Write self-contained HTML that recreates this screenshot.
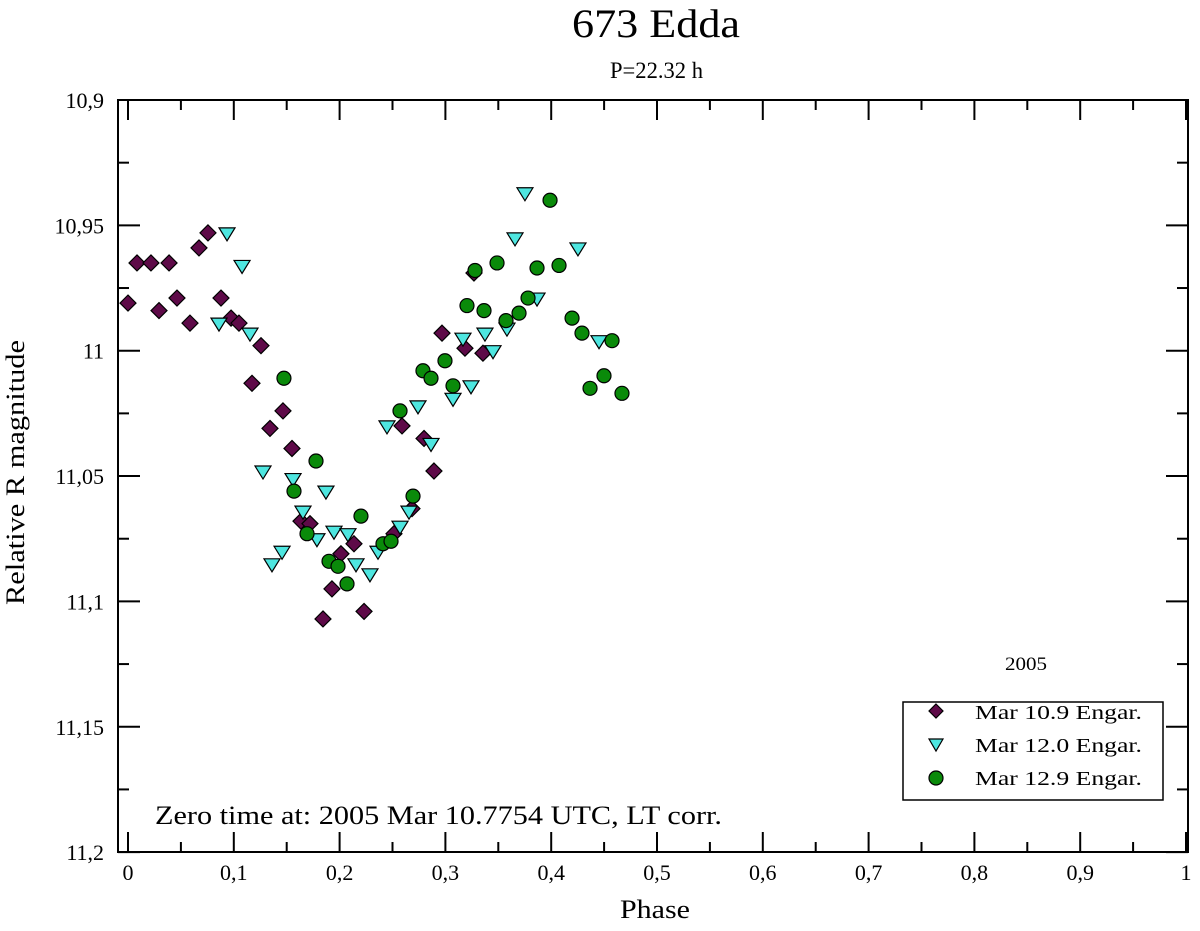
<!DOCTYPE html>
<html><head><meta charset="utf-8"><style>
body{margin:0;background:#fff}
svg text{font-family:"Liberation Serif",serif;fill:#000}
</style></head><body>
<svg id="chart" width="1200" height="926" xmlns="http://www.w3.org/2000/svg">
<text x="572" y="37" font-size="40" textLength="168" lengthAdjust="spacingAndGlyphs">673 Edda</text>
<text x="610" y="78" font-size="23" textLength="93" lengthAdjust="spacingAndGlyphs">P=22.32 h</text>
<rect x="118" y="100" width="1070" height="752" fill="none" stroke="#000" stroke-width="2"/>
<g id="axes"></g>
<g id="marks"></g>
<text x="620" y="918" font-size="26" textLength="70" lengthAdjust="spacingAndGlyphs">Phase</text>
<text transform="translate(24,605) rotate(-90)" font-size="26" textLength="265" lengthAdjust="spacingAndGlyphs">Relative R magnitude</text>
<text x="155" y="824" font-size="26" textLength="567" lengthAdjust="spacingAndGlyphs">Zero time at: 2005 Mar 10.7754 UTC, LT corr.</text>
<text x="1005" y="670" font-size="19" textLength="42" lengthAdjust="spacingAndGlyphs">2005</text>
<g>
<rect x="903" y="702" width="260" height="98" fill="#fff" stroke="#000" stroke-width="1.5"/>
<polygon points="936,704 943,711 936,718 929,711" fill="#5e0a48" stroke="#000" stroke-width="1.2"/>
<text x="975" y="719" font-size="20" textLength="167" lengthAdjust="spacingAndGlyphs">Mar 10.9 Engar.</text>
<polygon points="929,739 943,739 936,751" fill="#4ee6e0" stroke="#000" stroke-width="1.2"/>
<text x="975" y="752" font-size="20" textLength="167" lengthAdjust="spacingAndGlyphs">Mar 12.0 Engar.</text>
<circle cx="936" cy="778" r="7" fill="#0a8a0a" stroke="#000" stroke-width="1.2"/>
<text x="975" y="785" font-size="20" textLength="167" lengthAdjust="spacingAndGlyphs">Mar 12.9 Engar.</text>
</g>
</svg>
<script>
const xTicks=[0,0.1,0.2,0.3,0.4,0.5,0.6,0.7,0.8,0.9,1];
const xTickLabels=["0","0,1","0,2","0,3","0,4","0,5","0,6","0,7","0,8","0,9","1"];
const yTicks=[10.9,10.95,11,11.05,11.1,11.15,11.2];
const yTickLabels=["10,9","10,95","11","11,05","11,1","11,15","11,2"];
const diamondPhase=[0.000,0.0085,0.0217,0.0388,0.0293,0.0463,0.0586,0.0671,0.0756,0.0879,0.0974,0.1049,0.1257,0.1172,0.1465,0.1342,0.1550,0.1635,0.1720,0.1843,0.1928,0.2013,0.2136,0.2231,0.2514,0.2684,0.2590,0.2798,0.2892,0.2968,0.3185,0.3270,0.3355];
const diamondMag=[10.981,10.965,10.965,10.965,10.984,10.979,10.989,10.959,10.953,10.979,10.987,10.989,10.998,11.013,11.024,11.031,11.039,11.068,11.069,11.107,11.095,11.081,11.077,11.104,11.073,11.063,11.030,11.035,11.048,10.993,10.999,10.969,11.001];
const triPhase=[0.0860,0.0936,0.1078,0.1153,0.1276,0.1361,0.1456,0.1560,0.1654,0.1786,0.1871,0.1947,0.2079,0.2155,0.2287,0.2363,0.2448,0.2571,0.2656,0.2741,0.2864,0.3072,0.3166,0.3242,0.3374,0.3450,0.3582,0.3658,0.3752,0.3866,0.4253,0.4452];
const triMag=[10.989,10.953,10.966,10.993,11.048,11.085,11.080,11.051,11.064,11.075,11.056,11.072,11.073,11.085,11.089,11.080,11.030,11.070,11.064,11.022,11.037,11.019,10.995,11.014,10.993,11.000,10.991,10.955,10.937,10.979,10.959,10.996];
const circPhase=[0.1474,0.1569,0.1692,0.1777,0.1900,0.1985,0.2070,0.2202,0.2410,0.2486,0.2571,0.2694,0.2788,0.2864,0.2996,0.3072,0.3204,0.3280,0.3365,0.3488,0.3573,0.3696,0.3781,0.3866,0.3989,0.4074,0.4197,0.4291,0.4367,0.4499,0.4575,0.4669];
const circMag=[11.011,11.056,11.073,11.044,11.084,11.086,11.093,11.066,11.077,11.076,11.024,11.058,11.008,11.011,11.004,11.014,10.982,10.968,10.984,10.965,10.988,10.985,10.979,10.967,10.940,10.966,10.987,10.993,11.015,11.010,10.996,11.017];

const NS='http://www.w3.org/2000/svg';
const X=v=>128+v*1058;
const Y=v=>100+(v-10.9)*2507;
function mk(tag,attrs,parent){const e=document.createElementNS(NS,tag);for(const k in attrs)e.setAttribute(k,attrs[k]);parent.appendChild(e);return e;}
const axes=document.getElementById('axes'),marks=document.getElementById('marks');
for(let i=0;i<xTicks.length;i++){
  const x=X(xTicks[i]);
  const t1=mk('line',{x1:x,x2:x,y1:852,y2:832,stroke:'#000','stroke-width':2},axes);
  
  
  mk('line',{x1:x,x2:x,y1:100,y2:120,stroke:'#000','stroke-width':2},axes);
  if(i<xTicks.length-1){const xm=X(xTicks[i]+0.05);
    mk('line',{x1:xm,x2:xm,y1:852,y2:842,stroke:'#000','stroke-width':2},axes);
    mk('line',{x1:xm,x2:xm,y1:100,y2:110,stroke:'#000','stroke-width':2},axes);}
  const tl=mk('text',{x:x,y:880,'font-size':22,'text-anchor':'middle'},axes);
  tl.textContent=xTickLabels[i];
  
  
}
for(let i=0;i<yTicks.length;i++){
  const y=Y(yTicks[i]);
  mk('line',{x1:118,x2:140,y1:y,y2:y,stroke:'#000','stroke-width':2},axes);
  mk('line',{x1:1188,x2:1166,y1:y,y2:y,stroke:'#000','stroke-width':2},axes);
  if(i<yTicks.length-1){const ym=Y(yTicks[i]+0.025);
    mk('line',{x1:118,x2:129,y1:ym,y2:ym,stroke:'#000','stroke-width':2},axes);
    mk('line',{x1:1188,x2:1177,y1:ym,y2:ym,stroke:'#000','stroke-width':2},axes);}
  const tl=mk('text',{x:104,y:y+8,'font-size':22,'text-anchor':'end'},axes);
  tl.textContent=yTickLabels[i];
  
  
}
for(let i=0;i<diamondPhase.length;i++){const x=X(diamondPhase[i]),y=Y(diamondMag[i]);
  const p=mk('polygon',{points:`${x},${y-8} ${x+8},${y} ${x},${y+8} ${x-8},${y}`,fill:'#5e0a48',stroke:'#000','stroke-width':1.2},marks);
  
  }
for(let i=0;i<triPhase.length;i++){const x=X(triPhase[i]),y=Y(triMag[i]);
  const p=mk('polygon',{points:`${x-8},${y-5} ${x+8},${y-5} ${x},${y+8}`,fill:'#4ee6e0',stroke:'#000','stroke-width':1.2},marks);
  
  }
for(let i=0;i<circPhase.length;i++){
  const c=mk('circle',{cx:X(circPhase[i]),cy:Y(circMag[i]),r:7,fill:'#0a8a0a',stroke:'#000','stroke-width':1.2},marks);
  
  }
</script>
</body></html>
